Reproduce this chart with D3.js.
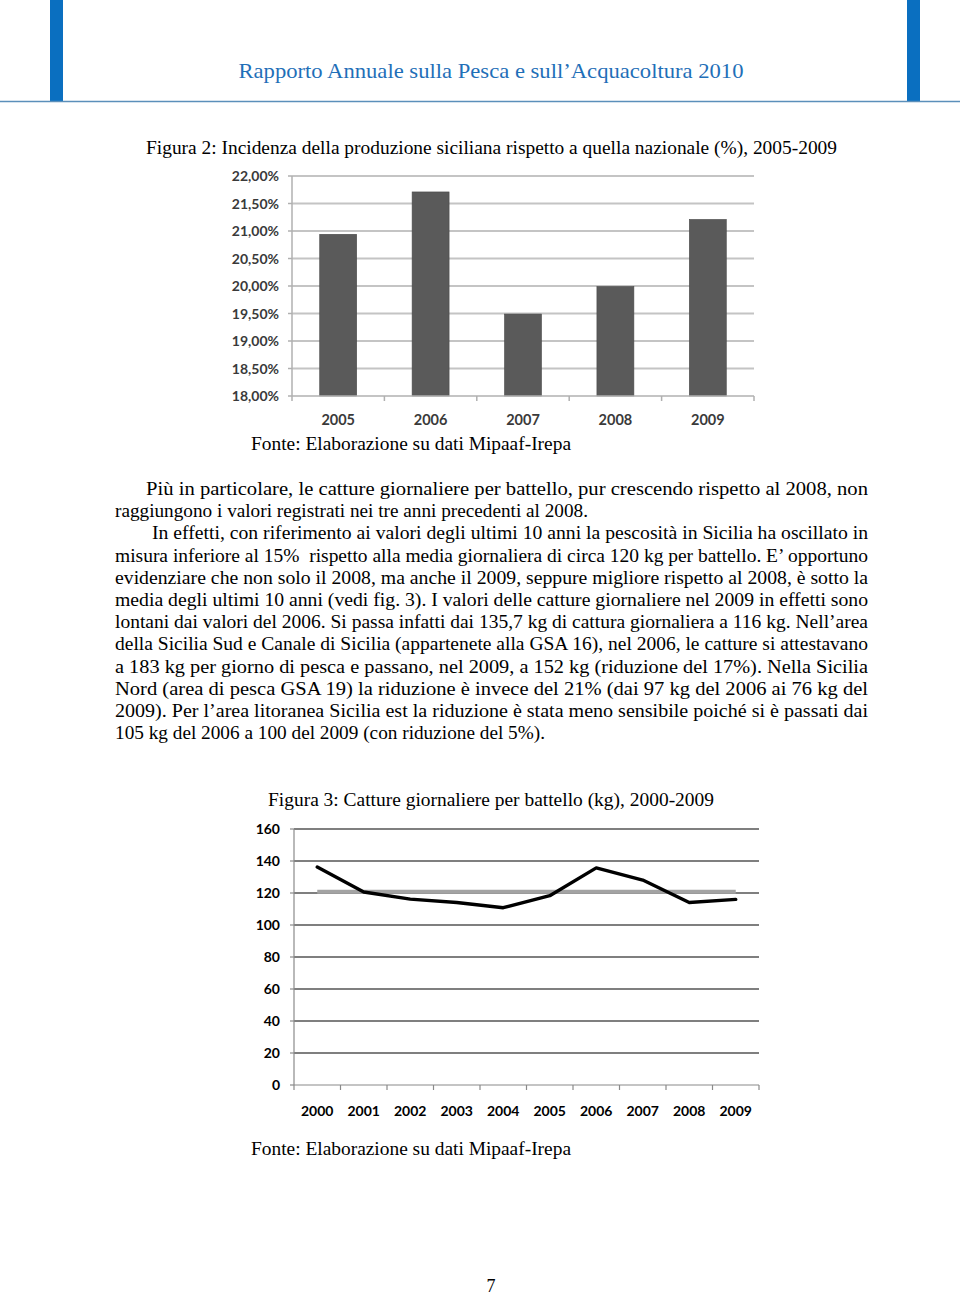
<!DOCTYPE html>
<html><head><meta charset="utf-8">
<script src="https://cdn.jsdelivr.net/npm/d3@7"></script>
<style>
html,body{margin:0;padding:0;background:#fff;}
svg{display:block;}
</style></head>
<body>
<script>
// ---- Data ----
const fig2Years = ["2005","2006","2007","2008","2009"];
const fig2Values = [20.94, 21.71, 19.49, 19.99, 21.21];
const fig2Ticks = [18,18.5,19,19.5,20,20.5,21,21.5,22];

const fig3Years = ["2000","2001","2002","2003","2004","2005","2006","2007","2008","2009"];
const fig3Catch = [136.2, 120.6, 116.2, 114.1, 110.8, 118.3, 135.7, 128.1, 114.1, 116.0];
const fig3Mean = [120.8, 120.8, 120.8, 120.8, 120.8, 120.8, 120.8, 120.8, 120.8, 120.8];
const fig3Ticks = [0,20,40,60,80,100,120,140,160];

const bodyLines = [
 {t:"Più in particolare, le catture giornaliere per battello, pur crescendo rispetto al 2008, non", x:146, e:868},
 {t:"raggiungono i valori registrati nei tre anni precedenti al 2008.", x:115, e:588},
 {t:"In effetti, con riferimento ai valori degli ultimi 10 anni la pescosità in Sicilia ha oscillato in", x:152, e:868},
 {t:"misura inferiore al 15%  rispetto alla media giornaliera di circa 120 kg per battello. E’ opportuno", x:115, e:868},
 {t:"evidenziare che non solo il 2008, ma anche il 2009, seppure migliore rispetto al 2008, è sotto la", x:115, e:868},
 {t:"media degli ultimi 10 anni (vedi fig. 3). I valori delle catture giornaliere nel 2009 in effetti sono", x:115, e:868},
 {t:"lontani dai valori del 2006. Si passa infatti dai 135,7 kg di cattura giornaliera a 116 kg. Nell’area", x:115, e:868},
 {t:"della Sicilia Sud e Canale di Sicilia (appartenete alla GSA 16), nel 2006, le catture si attestavano", x:115, e:868},
 {t:"a 183 kg per giorno di pesca e passano, nel 2009, a 152 kg (riduzione del 17%). Nella Sicilia", x:115, e:868},
 {t:"Nord (area di pesca GSA 19) la riduzione è invece del 21% (dai 97 kg del 2006 ai 76 kg del", x:115, e:868},
 {t:"2009). Per l’area litoranea Sicilia est la riduzione è stata meno sensibile poiché si è passati dai", x:115, e:868},
 {t:"105 kg del 2006 a 100 del 2009 (con riduzione del 5%).", x:115, e:545}
];

const W = 960, H = 1297;
const svg = d3.select("body").append("svg").attr("width", W).attr("height", H);
const serif = "'Liberation Serif','Times New Roman',serif";
const sans = "Lato,'Open Sans',sans-serif";

// ---- Header ----
svg.append("rect").attr("x",50).attr("y",0).attr("width",13).attr("height",102).attr("fill","#0a6fc0");
svg.append("rect").attr("x",907).attr("y",0).attr("width",13).attr("height",102).attr("fill","#0a6fc0");
svg.append("line").attr("x1",0).attr("x2",W).attr("y1",101.5).attr("y2",101.5)
  .attr("stroke","#5b8fba").attr("stroke-width",1.5);
svg.append("text").attr("x",491).attr("y",78).attr("text-anchor","middle")
  .attr("font-family",serif).attr("font-size",22).attr("fill","#1f6fb8")
  .attr("textLength",505).attr("lengthAdjust","spacingAndGlyphs")
  .text("Rapporto Annuale sulla Pesca e sull’Acquacoltura 2010");

// ---- Figure 2 ----
svg.append("text").attr("x",146).attr("y",154).attr("font-family",serif).attr("font-size",18.5)
  .attr("fill","#000").attr("textLength",691).attr("lengthAdjust","spacingAndGlyphs")
  .text("Figura 2: Incidenza della produzione siciliana rispetto a quella nazionale (%), 2005-2009");

const f2 = {l:292, r:754, t:176, b:396};
const x2 = d3.scaleBand().domain(fig2Years).range([f2.l, f2.r]).paddingInner(0.6).paddingOuter(0.3);
const y2 = d3.scaleLinear().domain([18,22]).range([f2.b, f2.t]);
const g2 = svg.append("g");
g2.selectAll("line.grid").data(fig2Ticks.slice(1)).join("line").attr("class","grid")
  .attr("x1",f2.l).attr("x2",f2.r).attr("y1",d=>y2(d)).attr("y2",d=>y2(d))
  .attr("stroke","#c4c4c4").attr("stroke-width",2);
g2.selectAll("rect.bar").data(fig2Values).join("rect").attr("class","bar")
  .attr("x",(d,i)=>x2(fig2Years[i])).attr("width",x2.bandwidth())
  .attr("y",d=>y2(d)).attr("height",d=>f2.b-y2(d))
  .attr("fill","#5a5a5a").attr("stroke","#4a4a4a").attr("stroke-width",0.6);
g2.append("line").attr("x1",f2.l).attr("x2",f2.l).attr("y1",f2.t).attr("y2",f2.b)
  .attr("stroke","#b0b0b0").attr("stroke-width",1.5);
g2.selectAll("line.yt").data(fig2Ticks).join("line").attr("class","yt")
  .attr("x1",f2.l-4).attr("x2",f2.l).attr("y1",d=>y2(d)).attr("y2",d=>y2(d))
  .attr("stroke","#b0b0b0").attr("stroke-width",1.5);
g2.append("line").attr("x1",f2.l).attr("x2",f2.r).attr("y1",f2.b).attr("y2",f2.b)
  .attr("stroke","#b0b0b0").attr("stroke-width",1.5);
const bounds2 = fig2Years.map((d,i)=>f2.l + i*(f2.r-f2.l)/fig2Years.length).concat([f2.r]);
g2.selectAll("line.xt").data(bounds2).join("line").attr("class","xt")
  .attr("x1",d=>d).attr("x2",d=>d).attr("y1",f2.b).attr("y2",f2.b+5)
  .attr("stroke","#b0b0b0").attr("stroke-width",1.5);
g2.selectAll("text.yl").data(fig2Ticks).join("text").attr("class","yl")
  .attr("x",279).attr("y",d=>y2(d)+5).attr("text-anchor","end")
  .attr("font-family",sans).attr("font-weight","bold").attr("font-size",14).attr("fill","#3a3a3a")
  .text(d=>d3.format(".2f")(d).replace(".",",")+"%");
g2.selectAll("text.xl").data(fig2Years).join("text").attr("class","xl")
  .attr("x",d=>x2(d)+x2.bandwidth()/2).attr("y",425).attr("text-anchor","middle")
  .attr("font-family",sans).attr("font-weight","bold").attr("font-size",14.5).attr("fill","#3a3a3a")
  .text(d=>d);
svg.append("text").attr("x",251).attr("y",450).attr("font-family",serif).attr("font-size",18.5)
  .attr("textLength",320).attr("lengthAdjust","spacingAndGlyphs")
  .text("Fonte: Elaborazione su dati Mipaaf-Irepa");

// ---- Body text ----
const lineY0 = 495, lineH = 22.2;
svg.selectAll("text.body").data(bodyLines).join("text").attr("class","body")
  .attr("x",d=>d.x).attr("y",(d,i)=>lineY0 + i*lineH)
  .attr("font-family",serif).attr("font-size",18.5).attr("fill","#000")
  .attr("xml:space","preserve")
  .attr("textLength",d=>d.e-d.x).attr("lengthAdjust","spacingAndGlyphs")
  .text(d=>d.t);

// ---- Figure 3 ----
svg.append("text").attr("x",268).attr("y",806).attr("font-family",serif).attr("font-size",18.5)
  .attr("textLength",446).attr("lengthAdjust","spacingAndGlyphs")
  .text("Figura 3: Catture giornaliere per battello (kg), 2000-2009");

const f3 = {l:294, r:759, t:829, b:1085};
const x3 = d3.scaleBand().domain(fig3Years).range([f3.l, f3.r]);
const y3 = d3.scaleLinear().domain([0,160]).range([f3.b, f3.t]);
const g3 = svg.append("g");
g3.selectAll("line.grid").data(fig3Ticks.slice(1)).join("line").attr("class","grid")
  .attr("x1",f3.l).attr("x2",f3.r).attr("y1",d=>y3(d)).attr("y2",d=>y3(d))
  .attr("stroke","#000").attr("stroke-width",1.2);
g3.append("line").attr("x1",f3.l).attr("x2",f3.l).attr("y1",f3.t).attr("y2",f3.b)
  .attr("stroke","#8a8a8a").attr("stroke-width",1.2);
g3.selectAll("line.yt").data(fig3Ticks).join("line").attr("class","yt")
  .attr("x1",f3.l-4).attr("x2",f3.l).attr("y1",d=>y3(d)).attr("y2",d=>y3(d))
  .attr("stroke","#8a8a8a").attr("stroke-width",1.2);
g3.append("line").attr("x1",f3.l).attr("x2",f3.r).attr("y1",f3.b).attr("y2",f3.b)
  .attr("stroke","#8a8a8a").attr("stroke-width",1.2);
const bounds3 = fig3Years.map(d=>x3(d)).concat([f3.r]);
g3.selectAll("line.xt").data(bounds3).join("line").attr("class","xt")
  .attr("x1",d=>d).attr("x2",d=>d).attr("y1",f3.b).attr("y2",f3.b+5)
  .attr("stroke","#8a8a8a").attr("stroke-width",1.2);
const cx3 = d=>x3(d)+x3.bandwidth()/2;
const line3 = d3.line().x((d,i)=>cx3(fig3Years[i])).y(d=>y3(d));
g3.append("path").datum(fig3Mean).attr("d",line3).attr("fill","none")
  .attr("stroke","#a3a3a3").attr("stroke-width",4);
g3.append("path").datum(fig3Catch).attr("d",line3).attr("fill","none")
  .attr("stroke","#000").attr("stroke-width",3.4).attr("stroke-linejoin","round").attr("stroke-linecap","round");
g3.selectAll("text.yl").data(fig3Ticks).join("text").attr("class","yl")
  .attr("x",280).attr("y",d=>y3(d)+5).attr("text-anchor","end")
  .attr("font-family",sans).attr("font-weight","bold").attr("font-size",14).attr("fill","#000")
  .text(d=>d);
g3.selectAll("text.xl").data(fig3Years).join("text").attr("class","xl")
  .attr("x",d=>cx3(d)).attr("y",1116).attr("text-anchor","middle")
  .attr("font-family",sans).attr("font-weight","bold").attr("font-size",14).attr("fill","#000")
  .text(d=>d);
svg.append("text").attr("x",251).attr("y",1155).attr("font-family",serif).attr("font-size",18.5)
  .attr("textLength",320).attr("lengthAdjust","spacingAndGlyphs")
  .text("Fonte: Elaborazione su dati Mipaaf-Irepa");

// page number
svg.append("text").attr("x",491).attr("y",1292).attr("text-anchor","middle")
  .attr("font-family",serif).attr("font-size",18).text("7");
</script>
</body></html>
